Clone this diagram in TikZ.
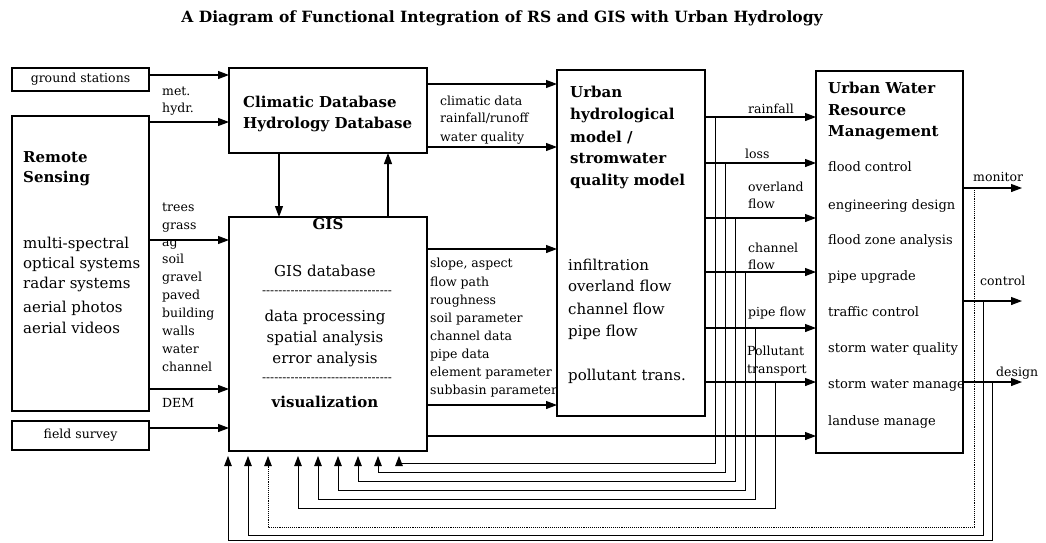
\documentclass[tikz,border=0pt]{standalone}
\usepackage{fontspec}
\setmainfont{DejaVu Serif}
\newfontfamily\myhyfont[Ligatures=TeXOff]{DejaVu Serif}
\usetikzlibrary{arrows.meta,calc}
\newcommand\myfsm{\fontsize{12.5}{15}\selectfont}
\newcommand\myfmd{\fontsize{13}{16}\selectfont}
\newcommand\myfbd{\fontsize{15}{18}\selectfont}
\newcommand\myfhd{\fontsize{15}{18}\selectfont\bfseries}
\newcommand\myfti{\fontsize{15.5}{18}\selectfont\bfseries}
\begin{document}
\begin{tikzpicture}[x=1pt,y=-1pt,
  box/.style={draw, line width=1.1pt, inner sep=0pt, outer sep=0pt, anchor=north west},
  arr/.style={line width=1.1pt, -{Triangle[length=11pt,width=8pt]}},
  fba/.style={line width=0.9pt, -{Triangle[length=10pt,width=7.5pt]}},
  sl/.style={font=\myfsm, inner sep=0pt, anchor=base west, yshift=-4pt},
  ml/.style={font=\myfmd, inner sep=0pt, anchor=base west, yshift=-4pt},
  bd/.style={font=\myfbd, inner sep=0pt, anchor=base west, yshift=-5pt},
  hd/.style={font=\myfhd, inner sep=0pt, anchor=base west, yshift=-5pt},
  hy/.style={font=\myhyfont\fontsize{12}{14}\selectfont, inner sep=0pt}]
\useasboundingbox (0,0) rectangle (1046,542);

% title
\node[font=\myfti, inner sep=0pt] (title) at (502,18) {A Diagram of Functional Integration of RS and GIS with Urban Hydrology};

% boxes
\node[box, minimum width=137pt, minimum height=23pt, font=\myfsm] (gs) at (12,68) {ground stations};
\node[box, minimum width=137pt, minimum height=295pt] (rs) at (12,116) {};
\node[box, minimum width=137pt, minimum height=29pt, font=\myfsm] (fs) at (12,421) {field survey};
\node[box, minimum width=198pt, minimum height=85pt] (clim) at (229,68) {};
\node[box, minimum width=198pt, minimum height=234pt] (gis) at (229,217) {};
\node[box, minimum width=148pt, minimum height=346pt] (model) at (557,70) {};
\node[box, minimum width=147pt, minimum height=382pt] (mgmt) at (816,71) {};

% Remote sensing text
\node[hd] (rs1) at (23,157) {Remote};
\node[hd] (rs2) at (23,177) {Sensing};
\foreach \t/\y [count=\i] in {multi-spectral/243, optical systems/263, radar systems/283, aerial photos/307, aerial videos/328}
  \node[bd] (rsb\i) at (23,\y) {\t};

% climatic database text
\node[hd] (cl1) at (243,102) {Climatic Database};
\node[hd] (cl2) at (243,123) {Hydrology Database};

% GIS text
\node[hd, anchor=base] (gist) at (328,224) {GIS};
\node[bd, anchor=base] (gisb1) at (325,271) {GIS database};
\node[hy] (gisd1) at (327,293) {--------------------------------};
\node[bd, anchor=base] (gisb2) at (325,316) {data processing};
\node[bd, anchor=base] (gisb3) at (325,337) {spatial analysis};
\node[bd, anchor=base] (gisb4) at (325,358) {error analysis};
\node[hy] (gisd2) at (327,380) {--------------------------------};
\node[hd, anchor=base] (gisb5) at (325,402) {visualization};

% model text
\foreach \t/\y [count=\i] in {Urban/92, hydrological/114, {model /}/137, stromwater/158, quality model/180}
  \node[hd] (mh\i) at (570,\y) {\t};
\foreach \t/\y [count=\i] in {infiltration/265, overland flow/286, channel flow/309, pipe flow/331, pollutant trans./375}
  \node[bd] (mb\i) at (568,\y) {\t};

% management text
\node[hd] (mg1) at (828,88) {Urban Water};
\node[hd] (mg2) at (828,110) {Resource};
\node[hd] (mg3) at (828,131) {Management};
\foreach \t/\y [count=\i] in {flood control/167, engineering design/205, flood zone analysis/240, pipe upgrade/276, traffic control/312, storm water quality/348, storm water manage/384, landuse manage/421}
  \node[ml] (mgi\i) at (828,\y) {\t};

% labels left
\node[sl] (lm1) at (162,91) {met.};
\node[sl] (lm2) at (162,108) {hydr.};
\foreach \t/\y [count=\i] in {trees/207, grass/225, ag/242, soil/259, gravel/277, paved/295, building/313, walls/331, water/349, channel/367}
  \node[sl] (lr\i) at (162,\y) {\t};
\node[sl] (ldem) at (162,403) {DEM};

% labels clim -> model
\node[sl] (lc1) at (440,101) {climatic data};
\node[sl] (lc2) at (440,118) {rainfall/runoff};
\node[sl] (lc3) at (440,137) {water quality};

% labels GIS -> model
\foreach \t/\y [count=\i] in {{slope, aspect}/263, flow path/282, roughness/300, soil parameter/318, channel data/336, pipe data/354, element parameter/372, subbasin parameter/390}
  \node[sl] (lg\i) at (430,\y) {\t};

% labels model -> mgmt
\node[sl] (lo1) at (748,109) {rainfall};
\node[sl] (lo2) at (745,154) {loss};
\node[sl] (lo3) at (748,187) {overland};
\node[sl] (lo4) at (748,204) {flow};
\node[sl] (lo5) at (748,248) {channel};
\node[sl] (lo6) at (748,265) {flow};
\node[sl] (lo7) at (748,312) {pipe flow};
\node[sl] (lo8) at (747,351) {Pollutant};
\node[sl] (lo9) at (747,369) {transport};

% output labels
\node[sl] (lmon) at (973,177) {monitor};
\node[sl] (lctl) at (980,281) {control};
\node[sl] (ldes) at (996,372) {design};

% arrows inputs
\draw[arr] (gs.east |- 0,75) -- (clim.west |- 0,75);
\draw[arr] (rs.east |- 0,122) -- (clim.west |- 0,122);
\draw[arr] (clim.south -| 279,0) -- (gis.north -| 279,0);
\draw[arr] (gis.north -| 388,0) -- (clim.south -| 388,0);
\draw[arr] (rs.east |- 0,240) -- (gis.west |- 0,240);
\draw[arr] (rs.east |- 0,389) -- (gis.west |- 0,389);
\draw[arr] (fs.east |- 0,428) -- (gis.west |- 0,428);

% to model
\draw[arr] (clim.east |- 0,84) -- (model.west |- 0,84);
\draw[arr] (clim.east |- 0,147) -- (model.west |- 0,147);
\draw[arr] (gis.east |- 0,249) -- (model.west |- 0,249);
\draw[arr] (gis.east |- 0,405) -- (model.west |- 0,405);
\draw[arr] (gis.east |- 0,436) -- (mgmt.west |- 0,436);

% model -> mgmt
\foreach \y in {117,163,218,272,328,382}
  \draw[arr] (model.east |- 0,\y) -- (mgmt.west |- 0,\y);

% outputs
\coordinate (omon) at (1022,188);
\coordinate (octl) at (1022,301);
\coordinate (odes) at (1022,382);
\draw[arr] (mgmt.east |- omon) -- (omon);
\draw[arr] (mgmt.east |- octl) -- (octl);
\draw[arr] (mgmt.east |- odes) -- (odes);

% feedback from model outputs
\foreach \bx/\by/\ly/\ax [count=\i] in {715/117/463/399, 725/163/472/378, 735/218/481/358, 745/272/490/338, 755/328/499/318, 775/382/508/298} {
  \coordinate (fbs\i) at (\bx,\by);
  \coordinate (fbe\i) at ($(gis.south -| \ax,0)+(0,5)$);
  \draw[fba] (fbs\i) |- (\ax,\ly) -- (fbe\i);
}

% feedback from management outputs
\coordinate (fbm) at (974,188);
\coordinate (fbc) at (983,301);
\coordinate (fbd) at (992,382);
\coordinate (fem) at ($(gis.south -| 268,0)+(0,5)$);
\coordinate (fec) at ($(gis.south -| 248,0)+(0,5)$);
\coordinate (fed) at ($(gis.south -| 228,0)+(0,5)$);
\draw[fba, densely dotted] (fbm) |- (268,527) -- (fem);
\draw[fba] (fbc) |- (248,535) -- (fec);
\draw[fba] (fbd) |- (228,540) -- (fed);
\end{tikzpicture}
\end{document}
